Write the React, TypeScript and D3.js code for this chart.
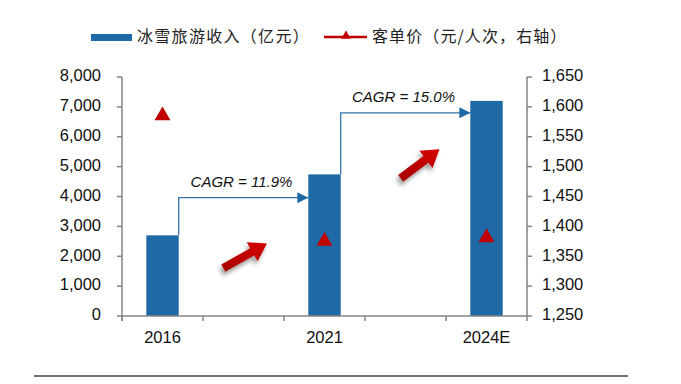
import React from "react";
import * as d3 from "d3";

// ---- data ----
const slots = ["2016", "gap1", "2021", "gap2", "2024E"];
const categories = ["2016", "2021", "2024E"];
const revenue = [2700, 4740, 7200]; // 冰雪旅游收入（亿元）
const perCapita = [1587, 1377, 1383]; // 客单价（元/人次，右轴）
const leftTicks = [0, 1000, 2000, 3000, 4000, 5000, 6000, 7000, 8000];
const rightTicks = [1250, 1300, 1350, 1400, 1450, 1500, 1550, 1600, 1650];
const cagrLabels = ["CAGR = 11.9%", "CAGR = 15.0%"];
const cagrLevels = [3960, 6800]; // connector heights (left-axis units)
// decorative red arrows: [tailSlot, tailValue, tipSlot, tipValue]
const redArrows = [
  [1.25, 1600, 1.79, 2430],
  [3.44, 4610, 3.92, 5580],
];
const legendLabels = ["冰雪旅游收入（亿元）", "客单价（元/人次，右轴）"];

const W = 681;
const H = 384;
const L = 122;
const R = 527;
const T = 77;
const B = 316;

const BLUE = "#1f69a6";
const RED = "#c00000";
const AXIS = "#858585";
const NUMFONT = "'Liberation Sans', Arial, sans-serif";
const CJKFONT = "'Noto Sans CJK SC', sans-serif";

export default function App() {
  const x = d3.scaleBand<string>().domain(slots).range([L, R]).padding(0);
  const xPos = d3.scaleLinear().domain([0, slots.length]).range([L, R]);
  const yL = d3.scaleLinear().domain([0, 8000]).range([B, T]);
  const yR = d3.scaleLinear().domain([1250, 1650]).range([B, T]);
  const bw = x.bandwidth() * 0.4;
  const cx = (c: string) => (x(c) as number) + x.bandwidth() / 2;

  const tri = d3.symbol().type(d3.symbolTriangle).size(110)();
  const triSmall = d3.symbol().type(d3.symbolTriangle).size(40)();

  const arrowPath = (x1: number, y1: number, x2: number, y2: number) => {
    const dx = x2 - x1;
    const dy = y2 - y1;
    const len = Math.hypot(dx, dy);
    const ux = dx / len;
    const uy = dy / len;
    const nx = -uy;
    const ny = ux;
    const sw = 4.2;
    const hw = 11;
    const hl = 17;
    const bx = x2 - ux * hl;
    const by = y2 - uy * hl;
    const pts = [
      [x1 + nx * sw, y1 + ny * sw],
      [bx + nx * sw, by + ny * sw],
      [bx + nx * hw, by + ny * hw],
      [x2, y2],
      [bx - nx * hw, by - ny * hw],
      [bx - nx * sw, by - ny * sw],
      [x1 - nx * sw, y1 - ny * sw],
    ];
    return "M" + pts.map((p) => p.join(",")).join("L") + "Z";
  };

  return (
    <svg
      width={W}
      height={H}
      style={{ position: "absolute", left: 0, top: 0, background: "#fff" }}
    >
      <defs>
        <marker
          id="cagrHead"
          viewBox="0 0 10 10"
          refX="10"
          refY="5"
          markerWidth="12"
          markerHeight="11"
          markerUnits="userSpaceOnUse"
          orient="auto"
        >
          <path d="M0,0L10,5L0,10Z" fill={BLUE} />
        </marker>
        <linearGradient id="redGrad" x1="0" y1="1" x2="1" y2="0">
          <stop offset="0" stopColor="#a80000" />
          <stop offset="1" stopColor="#d40000" />
        </linearGradient>
        <filter id="shadow" x="-50%" y="-50%" width="200%" height="200%">
          <feDropShadow dx="-2" dy="4" stdDeviation="2" floodColor="#555" floodOpacity="0.55" />
        </filter>
      </defs>

      {/* legend */}
      <rect x={91} y={34} width={41} height={7} fill={BLUE} />
      <text x={137} y={38} fontFamily={CJKFONT} fontSize={16} letterSpacing={1.3} dominantBaseline="middle" fill="#222">
        {legendLabels[0]}
      </text>
      <line x1={324} x2={367} y1={37} y2={37} stroke={RED} strokeWidth={2.5} />
      <path d={triSmall as string} transform="translate(346,36)" fill={RED} />
      <text x={372} y={38} fontFamily={CJKFONT} fontSize={16} letterSpacing={1.1} dominantBaseline="middle" fill="#222">
        {legendLabels[1]}
      </text>

      {/* bars */}
      {categories.map((c, i) => (
        <rect
          key={c}
          x={cx(c) - bw / 2}
          y={yL(revenue[i])}
          width={bw}
          height={B - yL(revenue[i])}
          fill={BLUE}
        />
      ))}

      {/* CAGR connectors */}
      {cagrLabels.map((lab, i) => {
        const c0 = categories[i];
        const c1 = categories[i + 1];
        const xs = cx(c0) + bw / 2;
        const xe = cx(c1) - bw / 2;
        const yl = yL(cagrLevels[i]);
        return (
          <g key={lab}>
            <path
              d={`M${xs},${yL(revenue[i])}V${yl}H${xe}`}
              fill="none"
              stroke="#3474ae"
              strokeWidth={1.3}
              markerEnd="url(#cagrHead)"
            />
            <text
              x={(xs + xe) / 2 - 2}
              y={yl - 11}
              textAnchor="middle"
              fontFamily={NUMFONT}
              fontStyle="italic"
              fontSize={15}
              fill="#111"
            >
              {lab}
            </text>
          </g>
        );
      })}

      {/* red decorative arrows */}
      {redArrows.map((a, i) => (
        <path
          key={i}
          d={arrowPath(xPos(a[0]), yL(a[1]), xPos(a[2]), yL(a[3]))}
          fill="url(#redGrad)"
          filter="url(#shadow)"
        />
      ))}

      {/* triangles (right axis) */}
      {categories.map((c, i) => (
        <path
          key={c}
          d={tri as string}
          transform={`translate(${cx(c)},${yR(perCapita[i]) + 1})`}
          fill={RED}
        />
      ))}

      {/* axes */}
      <g stroke={AXIS} strokeWidth={1.5}>
        <line x1={L} x2={L} y1={T} y2={B + 5} />
        <line x1={R} x2={R} y1={T} y2={B + 5} />
        <line x1={L} x2={R} y1={B} y2={B} />
        {leftTicks.map((t) => (
          <line key={"lt" + t} x1={L - 5} x2={L} y1={yL(t)} y2={yL(t)} />
        ))}
        {rightTicks.map((t) => (
          <line key={"rt" + t} x1={R} x2={R + 5} y1={yR(t)} y2={yR(t)} />
        ))}
        {slots.map((s) => (
          <line key={"xt" + s} x1={x(s) as number} x2={x(s) as number} y1={B} y2={B + 5} />
        ))}
      </g>
      {leftTicks.map((t) => (
        <text
          key={"ll" + t}
          x={101}
          y={yL(t)}
          textAnchor="end"
          dominantBaseline="middle"
          fontFamily={NUMFONT}
          fontSize={16.5}
          fill="#111"
        >
          {d3.format(",")(t)}
        </text>
      ))}
      {rightTicks.map((t) => (
        <text
          key={"rl" + t}
          x={542}
          y={yR(t)}
          dominantBaseline="middle"
          fontFamily={NUMFONT}
          fontSize={16.5}
          fill="#111"
        >
          {d3.format(",")(t)}
        </text>
      ))}
      {categories.map((c) => (
        <text
          key={"xl" + c}
          x={cx(c)}
          y={343}
          textAnchor="middle"
          fontFamily={NUMFONT}
          fontSize={16.5}
          fill="#111"
        >
          {c}
        </text>
      ))}

      {/* bottom rule */}
      <line x1={34} x2={628} y1={376} y2={376} stroke="#444" strokeWidth={1.3} />
    </svg>
  );
}
